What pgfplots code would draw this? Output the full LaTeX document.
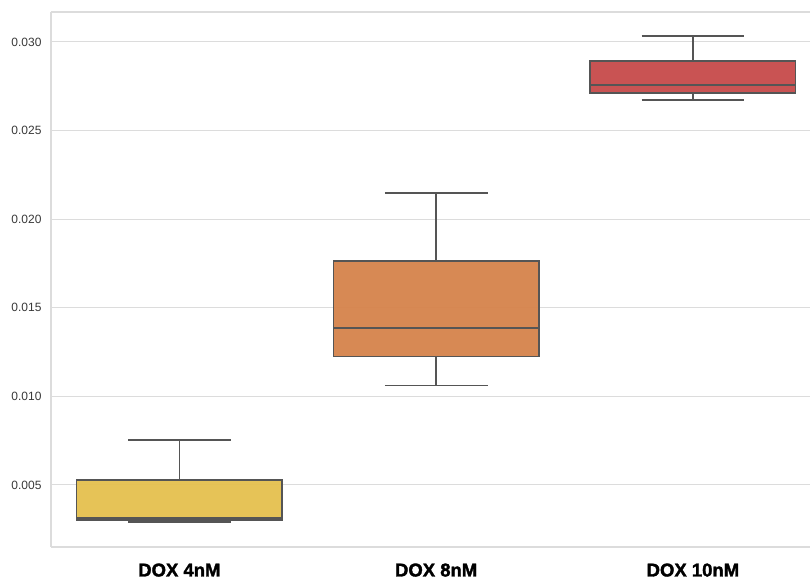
\documentclass[border=0pt]{standalone}
\usepackage{pgfplots}
\pgfplotsset{compat=1.18}
\usetikzlibrary{calc}
\usepackage{fontspec}
\setmainfont{Liberation Sans}
\newfontfamily\heavyfont[FakeBold=1.8]{Liberation Sans Bold}
\definecolor{gridc}{RGB}{220,220,220}
\definecolor{edgec}{RGB}{85,85,85}
\definecolor{cyel}{RGB}{229,193,82}
\definecolor{cora}{RGB}{214,133,78}
\definecolor{cred}{RGB}{199,77,77}
\pgfplotsset{
  boxface/.style={draw=edgec, line width=1.5pt, line join=miter, fill opacity=0.97},
  boxline/.style={draw=edgec, line width=1.5pt, mark=none},
}
\begin{document}
\begin{tikzpicture}
\begin{axis}[
  scale only axis,
  width=770.3pt, height=535pt,
  xmin=-0.5, xmax=2.5,
  ymin=1.5, ymax=31.69,
  axis x line*=bottom, axis y line*=left,
  axis line style={gridc, line width=1.2pt},
  ytick={5,10,15,20,25,30},
  yticklabels={0.005,0.010,0.015,0.020,0.025,0.030},
  yticklabel style={font=\fontsize{12}{14}\selectfont, text=black!78, xshift=-6pt},
  xtick={0,1,2},
  xticklabels={DOX 4nM, DOX 8nM, DOX 10nM},
  xticklabel style={font=\fontsize{18.5}{22}\heavyfont, yshift=-13pt},
  major tick length=0pt,
  ymajorgrids, grid style={gridc, line width=1pt},
  extra y ticks={31.69}, extra y tick labels={},
  extra y tick style={grid style={gridc, line width=1.2pt}},
  clip=false,
]
% values in units of 0.001
% DOX 4nM: whiskers 2.91 / 7.54, quartiles 3.02 / 5.28, median 3.14
\addplot[boxline] coordinates {(0,5.28) (0,7.54)};
\addplot[boxline] coordinates {(-0.2,7.54) (0.2,7.54)};
\addplot[boxline] coordinates {(0,2.91) (0,3.02)};
\addplot[boxline] coordinates {(-0.2,2.91) (0.2,2.91)};
\addplot[boxface, fill=cyel] coordinates {(-0.4,3.02) (0.4,3.02) (0.4,5.28) (-0.4,5.28)} -- cycle;
\addplot[boxline] coordinates {(-0.4,3.14) (0.4,3.14)};
% DOX 8nM: whiskers 10.62 / 21.47, quartiles 12.26 / 17.65, median 13.87
\addplot[boxline] coordinates {(1,17.65) (1,21.47)};
\addplot[boxline] coordinates {(0.8,21.47) (1.2,21.47)};
\addplot[boxline] coordinates {(1,10.62) (1,12.26)};
\addplot[boxline] coordinates {(0.8,10.62) (1.2,10.62)};
\addplot[boxface, fill=cora] coordinates {(0.6,12.26) (1.4,12.26) (1.4,17.65) (0.6,17.65)} -- cycle;
\addplot[boxline] coordinates {(0.6,13.87) (1.4,13.87)};
% DOX 10nM: whiskers 26.73 / 30.34, quartiles 27.12 / 28.93, median 27.57
\addplot[boxline] coordinates {(2,28.93) (2,30.34)};
\addplot[boxline] coordinates {(1.8,30.34) (2.2,30.34)};
\addplot[boxline] coordinates {(2,26.73) (2,27.12)};
\addplot[boxline] coordinates {(1.8,26.73) (2.2,26.73)};
\addplot[boxface, fill=cred] coordinates {(1.6,27.12) (2.4,27.12) (2.4,28.93) (1.6,28.93)} -- cycle;
\addplot[boxline] coordinates {(1.6,27.57) (2.4,27.57)};
\end{axis}
\pgfresetboundingbox
\path ($(current axis.south west)+(-51pt,-33pt)$) rectangle ($(current axis.north west)+(759pt,12pt)$);
\end{tikzpicture}
\end{document}
